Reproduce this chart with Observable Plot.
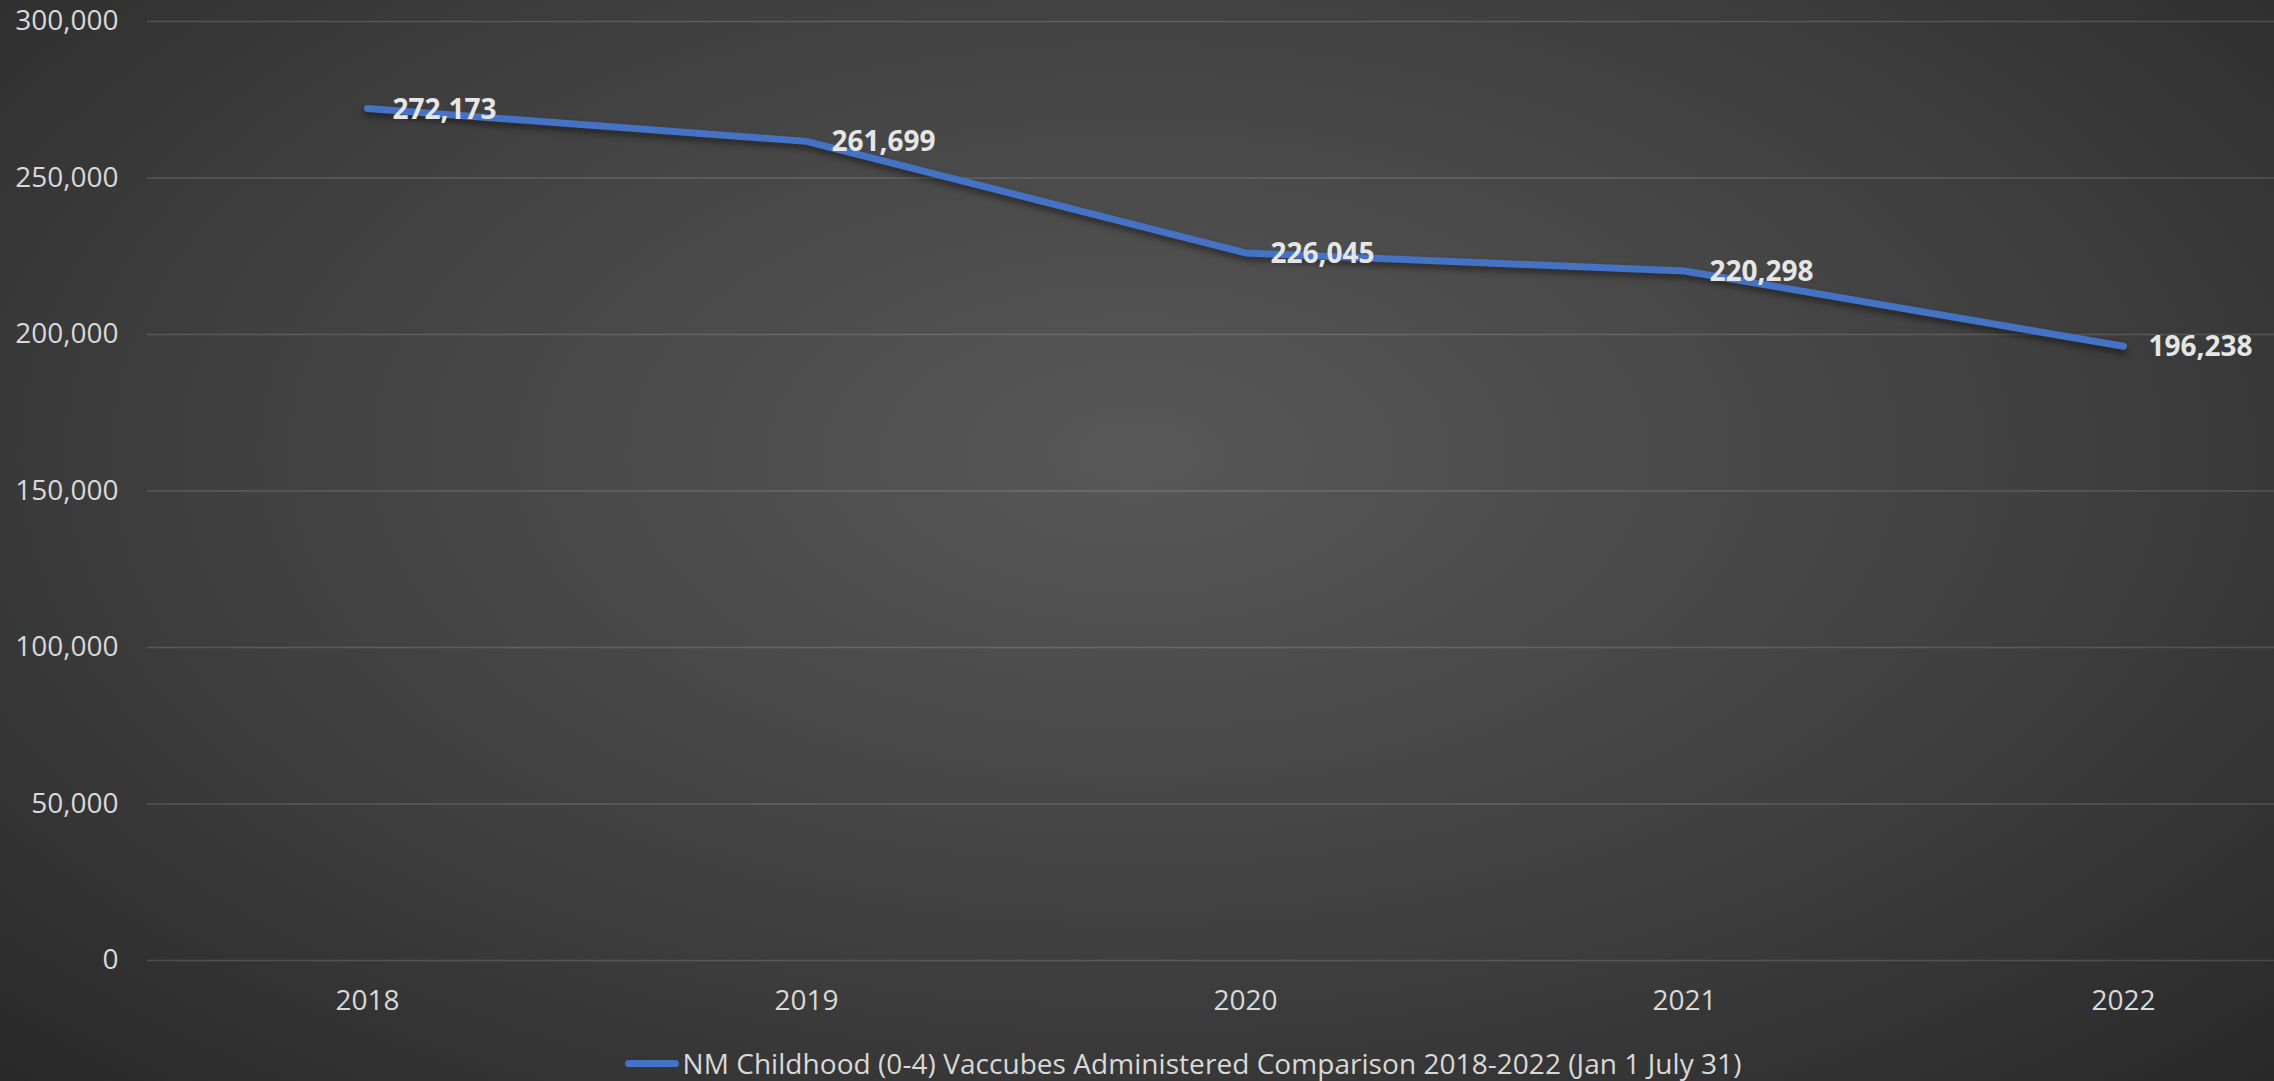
<!DOCTYPE html>
<html>
<head>
<meta charset="utf-8">
<script src="https://cdn.jsdelivr.net/npm/d3@7"></script>
<script src="https://cdn.jsdelivr.net/npm/@observablehq/plot@0.6"></script>
<style>
  html, body { margin: 0; padding: 0; }
  body {
    width: 2274px; height: 1081px; overflow: hidden; position: relative;
    background: radial-gradient(ellipse 75% 85% at 50% 42%, #585858 0%, #3f3f3f 55%, #262626 100%);
    font-family: "Open Sans", sans-serif;
  }
  #chart { position: absolute; left: 0; top: 0; }
  .vline path { filter: drop-shadow(0px 4px 3px rgba(0,0,0,0.45)); }
  #legend {
    position: absolute; left: 46px; width: 2274px; top: 1043px; height: 40px;
    display: flex; justify-content: center; align-items: center;
    color: #d9d9d9; font-size: 28px; font-family: "Open Sans", sans-serif;
    letter-spacing: 0.05px;
  }
  #legend .sw { width: 54px; height: 7px; background: #4472C4; border-radius: 4px; margin-right: 4px; }
</style>
</head>
<body>
<div id="chart"></div>
<div id="legend"><span class="sw"></span><span id="legendText"></span></div>
<script>
const years = ["2018", "2019", "2020", "2021", "2022"];
const values = [272173, 261699, 226045, 220298, 196238];
const yTicks = [0, 50000, 100000, 150000, 200000, 250000, 300000];
const seriesName = "NM Childhood (0-4) Vaccubes Administered Comparison 2018-2022 (Jan 1 July 31)";

document.getElementById("legendText").textContent = seriesName;
const data = years.map((y, i) => ({year: y, value: values[i]}));
const fmt = d3.format(",");

const chart = Plot.plot({
  width: 2274,
  height: 1040,
  marginLeft: 147,
  marginRight: 0,
  marginTop: 21,
  marginBottom: 80,
  style: {background: "transparent", fontFamily: "Open Sans, sans-serif", overflow: "visible"},
  x: {type: "point", domain: years, range: [367, 2123], padding: 0},
  y: {domain: [0, 300000], range: [960, 21]},
  marks: [
    Plot.ruleY(yTicks, {stroke: "#ffffff", strokeOpacity: 0.15, strokeWidth: 1.5}),
    Plot.axisY({ticks: yTicks, tickFormat: fmt, tickSize: 0, tickPadding: 29, fontSize: 28, fill: "#d9d9d9", label: null}),
    Plot.axisX({tickSize: 0, tickPadding: 30, fontSize: 28, fill: "#d9d9d9", label: null}),
    Plot.line(data, {x: "year", y: "value", stroke: "#4472C4", strokeWidth: 7, strokeLinecap: "round", strokeLinejoin: "round", className: "vline"}),
    Plot.text(data, {x: "year", y: "value", text: d => fmt(d.value), dx: 25, dy: 1, textAnchor: "start", fontSize: 28, fontWeight: "bold", fill: "#e6e6e6", lineAnchor: "middle"})
  ]
});
document.getElementById("chart").appendChild(chart);
</script>
</body>
</html>
